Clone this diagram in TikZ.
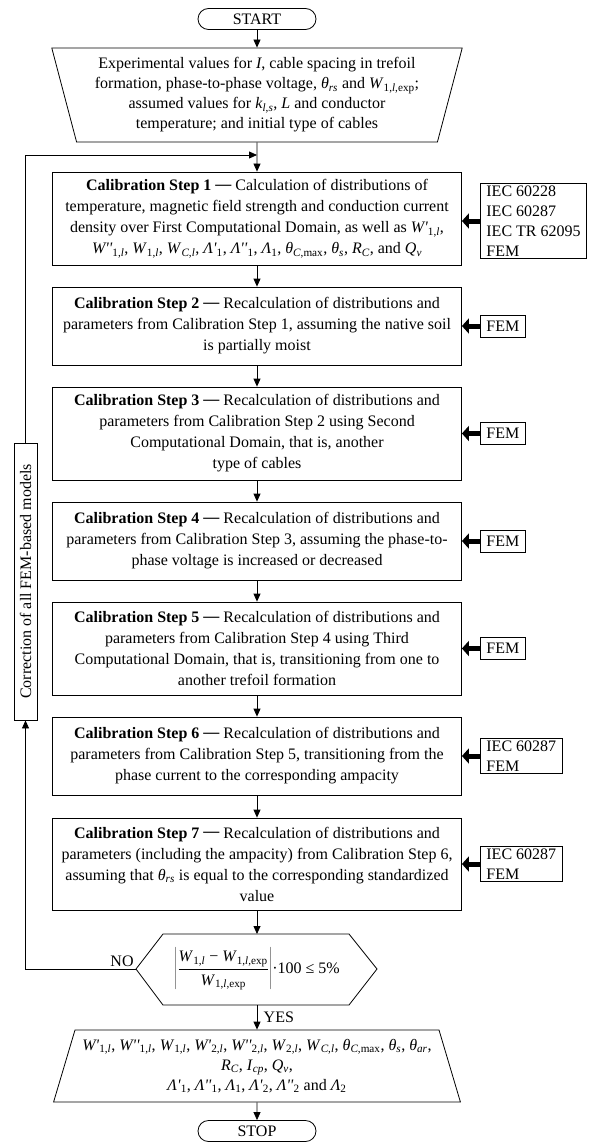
\documentclass[tikz,border=0pt]{standalone}
\usepackage{fontspec}
\setmainfont{Liberation Serif}
\usetikzlibrary{arrows.meta,shapes.geometric}

\newcommand{\qv}[2]{\textit{#1}\textsubscript{#2}}
\newcommand{\pq}{\textquotesingle}
\newcommand{\stp}[1]{\textbf{Calibration Step #1 \raisebox{.2ex}{—}}}

\tikzset{
  txt/.style={font=\fontsize{16}{21}\selectfont, align=center},
  term/.style={txt, draw, rectangle, rounded corners=10.5pt, minimum width=118pt, minimum height=21pt, inner sep=0pt},
  calib/.style={txt, draw, minimum width=409pt, inner sep=0pt},
  src/.style={draw, font=\fontsize{16}{20}\selectfont, align=left, anchor=west, inner xsep=6pt, inner ysep=2pt, minimum height=22pt},
  io/.style={txt, draw, trapezium, trapezium stretches=true, inner sep=0pt},
  arr/.style={-{Triangle[length=8pt,width=7pt]}},
  fat/.style={line width=5pt, -{Triangle[length=7pt,width=15pt]}},
}

\begin{document}
\begin{tikzpicture}[x=1pt,y=-1pt,line width=0.8pt]
  \useasboundingbox (0,0) rectangle (599,1142);
  % Start and input data
  \node[term] (start) at (257,19) {START};
  \node[io, trapezium left angle=106.6, trapezium right angle=106.6,
        minimum width=412pt, minimum height=94pt, font=\fontsize{16}{20}\selectfont] (inp) at (257,95)
    {Experimental values for \textit{I}, cable spacing in trefoil\\
     formation, phase-to-phase voltage, \qv{θ}{\textit{rs}} and \qv{W}{1,\textit{l},exp};\\
     assumed values for \qv{k}{\textit{l},\textit{s}}, \textit{L} and conductor\\
     temperature; and initial type of cables};
  % Calibration steps
  \node[calib, minimum height=93pt] (s1) at (257,218.5)
    {\stp{1} Calculation of distributions of\\
     temperature, magnetic field strength and conduction current\\
     density over First Computational Domain, as well as \textit{W\pq}\textsubscript{1,\textit{l}},\\
     \textit{W\pq\pq}\textsubscript{1,\textit{l}}, \qv{W}{1,\textit{l}}, \qv{W}{\textit{C},\textit{l}}, \textit{Λ\pq}\textsubscript{1}, \textit{Λ\pq\pq}\textsubscript{1}, \qv{Λ}{1}, \qv{θ}{\textit{C},max}, \qv{θ}{\textit{s}}, \qv{R}{\textit{C}}, and \qv{Q}{\textit{v}}};
  \node[calib, minimum height=78pt] (s2) at (257,326)
    {\stp{2} Recalculation of distributions and\\
     parameters from Calibration Step 1, assuming the native soil\\
     is partially moist};
  \node[calib, minimum height=93pt] (s3) at (257,433.5)
    {\stp{3} Recalculation of distributions and\\
     parameters from Calibration Step 2 using Second\\
     Computational Domain, that is, another\\
     type of cables};
  \node[calib, minimum height=78pt] (s4) at (257,541)
    {\stp{4} Recalculation of distributions and\\
     parameters from Calibration Step 3, assuming the phase-to-\\
     phase voltage is increased or decreased};
  \node[calib, minimum height=93pt] (s5) at (257,648.5)
    {\stp{5} Recalculation of distributions and\\
     parameters from Calibration Step 4 using Third\\
     Computational Domain, that is, transitioning from one to\\
     another trefoil formation};
  \node[calib, minimum height=78pt] (s6) at (257,756)
    {\stp{6} Recalculation of distributions and\\
     parameters from Calibration Step 5, transitioning from the\\
     phase current to the corresponding ampacity};
  \node[calib, minimum height=92pt] (s7) at (257,864)
    {\stp{7} Recalculation of distributions and\\
     parameters (including the ampacity) from Calibration Step 6,\\
     assuming that \qv{θ}{\textit{rs}} is equal to the corresponding standardized\\
     value};
  % Sources of each step
  \node[src] (r1) at (480,221) {IEC 60228\\IEC 60287\\IEC TR 62095\\FEM};
  \node[src] (r2) at (480,326) {FEM};
  \node[src] (r3) at (480,433.5) {FEM};
  \node[src] (r4) at (480,541) {FEM};
  \node[src] (r5) at (480,648.5) {FEM};
  \node[src] (r6) at (480,756) {IEC 60287\\FEM};
  \node[src] (r7) at (480,864) {IEC 60287\\FEM};
  % Check
  \draw (136,969) -- (163,934) -- (349,934) -- (377,969) -- (349,1005) -- (163,1005) -- cycle;
  \coordinate (chkN) at (257,934);
  \coordinate (chkS) at (257,1005);
  \coordinate (no) at (136,969);
  \node[txt] (chk) at (257,969)
    {$\displaystyle\left|\frac{\mbox{\rule[-4pt]{0pt}{4pt}\qv{W}{1,\textit{l}} − \qv{W}{1,\textit{l},exp}}}{\mbox{\rule{0pt}{15pt}\qv{W}{1,\textit{l},exp}}}\right|$·100 ≤ 5\%};
  \node[txt, above left, inner sep=2pt] (nolbl) at (no) {NO};
  % Correction loop
  \node[txt, draw, rotate=90, minimum width=277pt, minimum height=23pt, inner sep=0pt] (fix) at (25.5,581.5)
    {Correction of all FEM-based models};
  \coordinate (join) at (257,155);
  % Results and stop
  \node[io, trapezium left angle=69.1, trapezium right angle=69.1,
        minimum width=409pt, minimum height=72pt, font=\fontsize{16}{20}\selectfont] (outp) at (257,1066)
    {\textit{W\pq}\textsubscript{1,\textit{l}}, \textit{W\pq\pq}\textsubscript{1,\textit{l}}, \qv{W}{1,\textit{l}}, \textit{W\pq}\textsubscript{2,\textit{l}}, \textit{W\pq\pq}\textsubscript{2,\textit{l}}, \qv{W}{2,\textit{l}}, \qv{W}{\textit{C},\textit{l}}, \qv{θ}{\textit{C},max}, \qv{θ}{\textit{s}}, \qv{θ}{\textit{ar}},\\
     \qv{R}{\textit{C}}, \qv{I}{\textit{cp}}, \qv{Q}{\textit{v}},\\
     \textit{Λ\pq}\textsubscript{1}, \textit{Λ\pq\pq}\textsubscript{1}, \qv{Λ}{1}, \textit{Λ\pq}\textsubscript{2}, \textit{Λ\pq\pq}\textsubscript{2} and \qv{Λ}{2}};
  \node[term] (stop) at (257,1131) {STOP};
  % Connectors
  \draw[arr] (start) -- (inp);
  \draw[arr] (inp.south) -- (s1.north);
  \foreach \a/\b in {s1/s2,s2/s3,s3/s4,s4/s5,s5/s6,s6/s7}
    \draw[arr] (\a) -- (\b);
  \draw[arr] (s7) -- (chkN);
  \draw[arr] (chkS) -- node[txt, right=3pt] (yes) {YES} (outp);
  \draw[arr] (outp) -- (stop);
  \draw[arr] (no) -| (fix.west);
  \draw[arr] (fix.east) |- (join);
  \foreach \r/\s in {r1/s1,r2/s2,r3/s3,r4/s4,r5/s5,r6/s6,r7/s7}
    \draw[fat] (\r.west) -- (\r.west -| \s.east);
\end{tikzpicture}
\end{document}
